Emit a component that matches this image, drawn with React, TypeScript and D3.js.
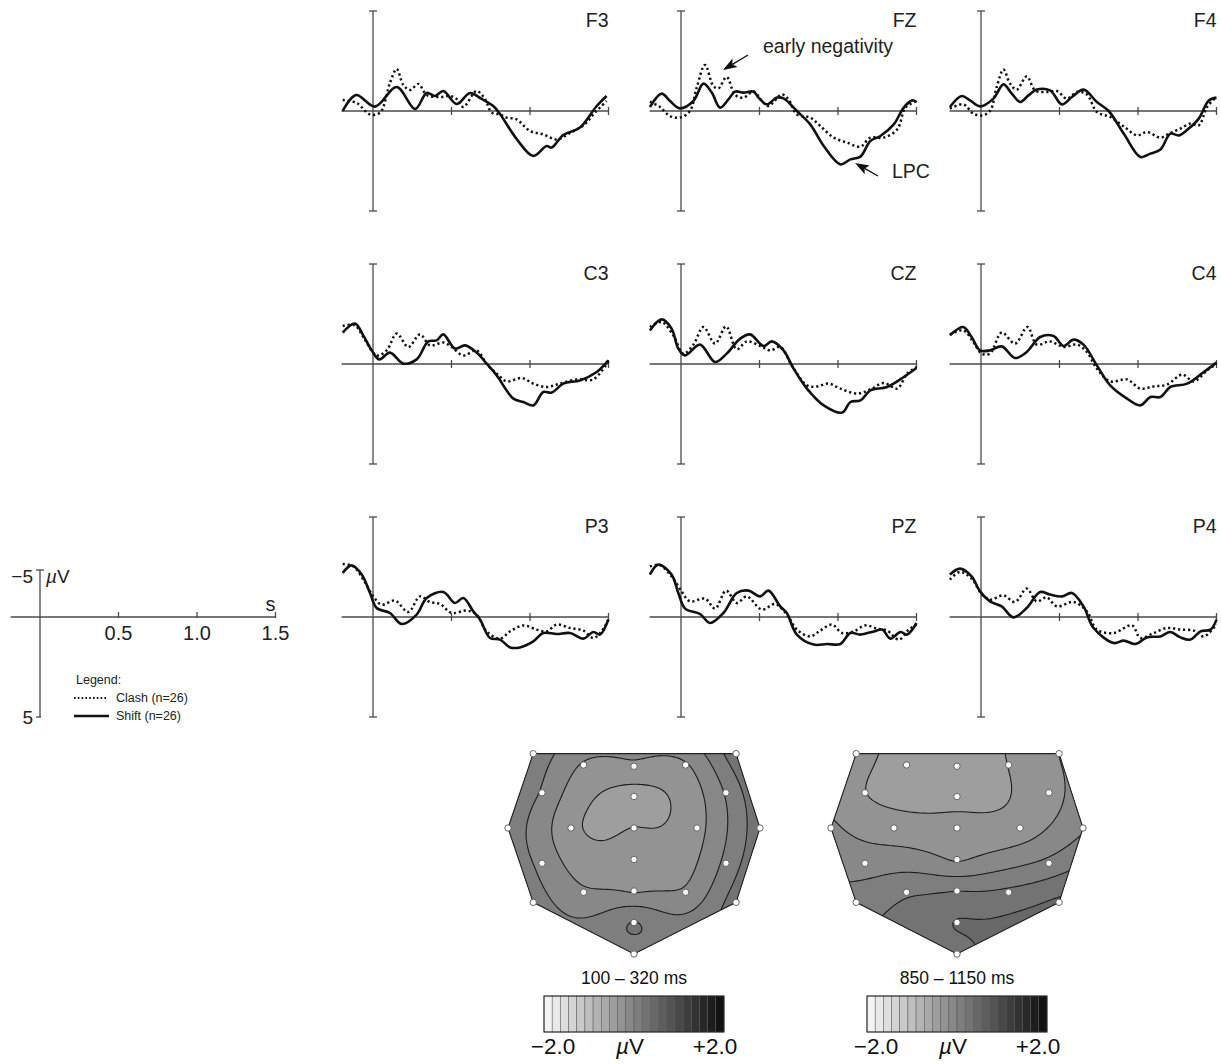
import React, { useMemo } from "react";
import * as d3 from "d3";

type Pt = [number, number];

// ---------- ERP data: [time (s), amplitude (µV)], negative plotted up ----------
const F3_SHIFT: Pt[] = [[-0.193,0],[-0.108,-0.8],[0.013,-0.22],[0.151,-1.2],[0.268,-0.1],[0.342,-0.9],[0.395,-0.75],[0.448,-1.0],[0.533,-0.35],[0.618,-0.9],[0.682,-0.65],[0.766,-0.25],[0.809,0.15],[0.915,1.4],[1.021,2.25],[1.106,1.75],[1.138,1.83],[1.212,1.2],[1.318,0.83],[1.425,-0.25],[1.488,-0.75]];
const F3_CLASH: Pt[] = [[-0.193,-0.55],[-0.104,-0.4],[-0.019,0.17],[0.045,0.08],[0.108,-1.4],[0.151,-2.1],[0.193,-1.3],[0.236,-1.05],[0.289,-1.35],[0.342,-0.8],[0.427,-0.7],[0.49,-0.75],[0.533,-0.6],[0.575,-0.2],[0.66,-1.0],[0.713,-0.6],[0.756,0.08],[0.809,0.17],[0.851,0.33],[0.915,0.42],[1.0,1.0],[1.085,1.17],[1.17,1.42],[1.255,1.1],[1.34,0.72],[1.414,0.08],[1.488,-0.5]];
const FZ_SHIFT: Pt[] = [[-0.198,-0.2],[-0.123,-0.87],[-0.07,-0.5],[-0.006,-0.13],[0.079,-0.5],[0.143,-1.37],[0.196,-0.92],[0.249,-0.17],[0.302,-0.58],[0.345,-0.97],[0.398,-0.92],[0.462,-0.97],[0.494,-0.67],[0.547,-0.33],[0.611,-0.67],[0.653,-0.63],[0.738,0],[0.823,0.67],[0.909,1.75],[1.015,2.67],[1.079,2.42],[1.143,2.28],[1.206,1.5],[1.27,1.25],[1.355,0.67],[1.419,-0.17],[1.472,-0.53],[1.5,-0.45]];
const FZ_CLASH: Pt[] = [[-0.198,-0.47],[-0.134,-0.2],[-0.07,0.25],[-0.006,0.33],[0.057,0],[0.1,-1.17],[0.153,-2.3],[0.206,-1.25],[0.238,-1.13],[0.291,-1.7],[0.345,-0.8],[0.398,-0.67],[0.462,-0.97],[0.515,-0.5],[0.557,-0.25],[0.643,-0.83],[0.685,-0.58],[0.738,0.17],[0.823,0.33],[0.887,0.75],[0.972,1.33],[1.057,1.58],[1.143,1.78],[1.206,1.33],[1.291,1.33],[1.377,0.92],[1.43,-0.17],[1.5,-0.5]];
const F4_SHIFT: Pt[] = [[-0.198,-0.2],[-0.123,-0.75],[-0.07,-0.53],[-0.006,-0.23],[0.079,-0.62],[0.143,-1.33],[0.196,-0.87],[0.249,-0.45],[0.302,-0.78],[0.355,-1.07],[0.44,-1.03],[0.515,-0.33],[0.579,-0.7],[0.653,-1.07],[0.738,-0.45],[0.813,0],[0.909,1.13],[1.015,2.3],[1.079,2.13],[1.143,1.93],[1.206,1.13],[1.26,1.22],[1.323,0.88],[1.387,0.38],[1.451,-0.53],[1.5,-0.67]];
const F4_CLASH: Pt[] = [[-0.198,-0.12],[-0.113,-0.33],[-0.049,0.13],[0.004,0.22],[0.057,0],[0.1,-1.2],[0.143,-2.07],[0.185,-1.37],[0.228,-1.07],[0.291,-1.73],[0.345,-1.03],[0.419,-0.95],[0.483,-1.0],[0.547,-0.62],[0.611,-0.95],[0.674,-0.83],[0.738,0.05],[0.823,0.3],[0.909,0.77],[0.994,1.22],[1.057,1.05],[1.143,1.33],[1.206,1.1],[1.27,0.88],[1.334,0.63],[1.387,0.72],[1.44,-0.2],[1.5,-0.7]];
const C3_SHIFT: Pt[] = [[-0.193,-1.57],[-0.115,-2.02],[-0.062,-1.43],[-0.008,-0.68],[0.04,-0.23],[0.108,-0.57],[0.193,-0.02],[0.278,-0.23],[0.352,-1.13],[0.406,-1.18],[0.448,-1.48],[0.522,-0.77],[0.586,-0.93],[0.66,-0.57],[0.724,-0.02],[0.788,0.57],[0.894,1.73],[0.958,1.9],[1.021,2.07],[1.085,1.4],[1.138,1.43],[1.212,0.98],[1.318,0.82],[1.425,0.4],[1.499,-0.18]];
const C3_CLASH: Pt[] = [[-0.193,-1.9],[-0.115,-1.93],[-0.062,-1.35],[0.023,-0.43],[0.087,-0.68],[0.151,-1.52],[0.225,-0.85],[0.299,-1.48],[0.363,-0.93],[0.448,-1.07],[0.501,-0.85],[0.575,-0.43],[0.66,-0.68],[0.724,0],[0.788,0.48],[0.851,0.87],[0.947,0.7],[1.021,0.98],[1.106,1.15],[1.19,0.98],[1.297,0.77],[1.403,0.77],[1.499,-0.13]];
const CZ_SHIFT: Pt[] = [[-0.198,-1.68],[-0.123,-2.23],[-0.06,-1.77],[-0.017,-0.77],[0.026,-0.43],[0.121,-0.97],[0.217,-0.1],[0.291,-0.52],[0.377,-1.27],[0.44,-1.48],[0.526,-0.9],[0.579,-1.13],[0.653,-0.68],[0.717,0.23],[0.802,1.23],[0.909,2.07],[1.026,2.43],[1.079,1.9],[1.143,1.82],[1.206,1.32],[1.313,1.15],[1.419,0.65],[1.5,0.2]];
const CZ_CLASH: Pt[] = [[-0.198,-1.85],[-0.123,-2.1],[-0.049,-1.43],[0.015,-0.52],[0.079,-0.97],[0.143,-1.85],[0.217,-1.02],[0.287,-1.88],[0.355,-0.73],[0.419,-1.13],[0.504,-0.9],[0.568,-0.68],[0.632,-0.85],[0.706,0.07],[0.802,1.07],[0.866,1.12],[0.94,0.98],[1.015,1.23],[1.121,1.48],[1.206,1.27],[1.291,0.95],[1.377,1.23],[1.44,0.48],[1.5,0.15]];
const C4_SHIFT: Pt[] = [[-0.198,-1.43],[-0.113,-1.85],[-0.06,-1.35],[-0.006,-0.68],[0.057,-0.68],[0.132,-0.88],[0.217,-0.3],[0.291,-0.6],[0.377,-1.35],[0.462,-1.4],[0.526,-0.9],[0.589,-1.22],[0.653,-0.97],[0.738,0.07],[0.823,1.07],[0.93,1.73],[1.015,2.07],[1.079,1.65],[1.143,1.65],[1.206,1.15],[1.313,0.98],[1.419,0.4],[1.5,-0.07]];
const C4_CLASH: Pt[] = [[-0.198,-1.48],[-0.113,-1.68],[-0.049,-1.1],[0.004,-0.52],[0.057,-0.52],[0.132,-1.57],[0.217,-1.02],[0.296,-1.85],[0.355,-0.97],[0.44,-1.13],[0.526,-0.85],[0.611,-0.97],[0.674,-0.6],[0.738,0.23],[0.823,0.87],[0.93,0.77],[1.015,1.23],[1.1,1.12],[1.185,1.03],[1.281,0.53],[1.355,0.87],[1.44,0.32],[1.5,0]];
const P3_SHIFT: Pt[] = [[-0.193,-2.2],[-0.136,-2.58],[-0.072,-2.12],[-0.019,-1.2],[0.023,-0.45],[0.108,-0.2],[0.183,0.35],[0.278,-0.12],[0.342,-0.95],[0.448,-1.25],[0.522,-0.7],[0.575,-0.95],[0.639,-0.28],[0.682,0.13],[0.745,1.05],[0.809,1.13],[0.873,1.52],[0.936,1.52],[1.021,1.22],[1.085,0.8],[1.17,0.85],[1.255,0.8],[1.34,1.08],[1.403,0.75],[1.446,0.88],[1.499,0.13]];
const P3_CLASH: Pt[] = [[-0.193,-2.65],[-0.125,-2.53],[-0.062,-1.87],[0.002,-1.03],[0.055,-0.62],[0.14,-0.82],[0.225,-0.25],[0.299,-1.03],[0.363,-0.75],[0.427,-0.65],[0.501,-0.2],[0.597,-0.32],[0.66,-0.12],[0.724,0.72],[0.809,1.08],[0.873,0.72],[0.958,0.42],[1.042,0.63],[1.106,0.72],[1.17,0.38],[1.255,0.55],[1.34,0.68],[1.403,1.05],[1.456,0.72],[1.499,0.13]];
const PZ_SHIFT: Pt[] = [[-0.198,-2.12],[-0.145,-2.62],[-0.06,-2.12],[-0.017,-1.2],[0.026,-0.42],[0.121,-0.15],[0.185,0.3],[0.27,-0.2],[0.355,-1.2],[0.43,-1.32],[0.504,-1.03],[0.557,-1.32],[0.632,-0.53],[0.674,-0.2],[0.738,0.88],[0.845,1.38],[0.93,1.35],[1.015,1.35],[1.079,0.8],[1.143,0.88],[1.228,0.72],[1.281,0.63],[1.334,1.08],[1.398,0.75],[1.44,0.88],[1.5,0.3]];
const PZ_CLASH: Pt[] = [[-0.198,-2.53],[-0.134,-2.58],[-0.06,-2.03],[0.004,-1.28],[0.057,-0.78],[0.153,-0.92],[0.217,-0.42],[0.287,-1.32],[0.355,-0.7],[0.419,-1.03],[0.515,-0.37],[0.6,-0.65],[0.674,-0.12],[0.738,0.63],[0.823,0.97],[0.887,0.68],[0.962,0.38],[1.026,0.8],[1.1,0.72],[1.174,0.42],[1.249,0.58],[1.313,0.68],[1.387,1.13],[1.451,0.63],[1.5,0.38]];
const P4_SHIFT: Pt[] = [[-0.198,-2.12],[-0.134,-2.42],[-0.06,-2.03],[-0.006,-1.28],[0.057,-0.78],[0.132,-0.53],[0.206,0.02],[0.291,-0.45],[0.377,-1.25],[0.44,-1.12],[0.515,-1.03],[0.579,-1.2],[0.653,-0.53],[0.717,0.55],[0.845,1.3],[0.909,1.18],[0.983,1.35],[1.057,1.02],[1.143,0.97],[1.206,0.75],[1.27,1.02],[1.334,1.13],[1.398,0.72],[1.462,0.63],[1.5,0.13]];
const P4_CLASH: Pt[] = [[-0.198,-1.87],[-0.134,-2.25],[-0.06,-1.92],[0.004,-1.15],[0.057,-0.87],[0.143,-1.08],[0.217,-0.75],[0.291,-1.42],[0.355,-0.78],[0.419,-0.98],[0.483,-0.53],[0.589,-0.75],[0.674,-0.28],[0.738,0.63],[0.845,0.8],[0.962,0.42],[1.015,1.05],[1.1,0.8],[1.185,0.55],[1.27,0.63],[1.355,0.68],[1.419,0.97],[1.5,0.38]];

const ELECTRODES = ["F3", "FZ", "F4", "C3", "CZ", "C4", "P3", "PZ", "P4"];
const SHIFT_SERIES = [F3_SHIFT, FZ_SHIFT, F4_SHIFT, C3_SHIFT, CZ_SHIFT, C4_SHIFT, P3_SHIFT, PZ_SHIFT, P4_SHIFT];
const CLASH_SERIES = [F3_CLASH, FZ_CLASH, F4_CLASH, C3_CLASH, CZ_CLASH, C4_CLASH, P3_CLASH, PZ_CLASH, P4_CLASH];

const X_TICKS = [0.5, 1.0, 1.5];
const X_TICK_LABELS = ["0.5", "1.0", "1.5"];
const T_MIN = -0.2;
const T_MAX = 1.5;
const UV_MAX = 5;

const LEGEND_ITEMS = ["Clash (n=26)", "Shift (n=26)"];

// ---------- topographic maps ----------
// electrode montage in normalized map units
const MONTAGE: Pt[] = [
  [-0.8, -0.59], [0.81, -0.59],
  [-0.4, -0.5], [0, -0.49], [0.41, -0.5],
  [-0.73, -0.28], [0, -0.25], [0.73, -0.28],
  [-1, 0], [-0.5, 0], [0, 0], [0.5, 0], [1, 0],
  [-0.73, 0.28], [0, 0.25], [0.73, 0.28],
  [-0.4, 0.51], [0, 0.5], [0.41, 0.51],
  [-0.8, 0.59], [0.81, 0.59],
  [0, 0.75], [0, 1],
];
const HULL = [0, 1, 12, 20, 22, 19, 8];
const MAP1_VALUES = [0.12, 0.3, -0.2, -0.22, -0.2, -0.02, -0.43, 0.02, 0.1, -0.32, -0.36, -0.24, 0.3, -0.05, -0.3, 0.05, -0.15, -0.2, -0.15, 0.08, 0.28, 0.19, 0.08];
const MAP2_VALUES = [-0.28, -0.18, -0.45, -0.47, -0.36, -0.36, -0.42, -0.25, -0.15, -0.28, -0.3, -0.28, -0.02, -0.08, -0.2, 0.05, 0.15, 0.18, 0.22, 0.08, 0.4, 0.37, 0.3];
const MAP_TITLES = ["100 \u2013 320 ms", "850 \u2013 1150 ms"];
const CB_MIN = -2;
const CB_MAX = 2;
const CB_CELLS = 22;
const CB_LABELS = ["\u22122.0", "+2.0"];

// ---------- layout ----------
const FONT = "'Liberation Sans', Arial, Helvetica, sans-serif";
const COL_ZERO_X = [373, 681, 981];
const ROW_ZERO_Y = [111, 364, 617];
const PX_PER_SEC = 157;
const HALF_H = 100;
const AXIS = "#4a4a4a";
const MAP_CENTERS: Pt[] = [[634, 828], [957, 828]];
const MAP_R = 126;

function cellColor(i: number) {
  const g = Math.round(244 - i * (226 / (CB_CELLS - 1)));
  return d3.rgb(g, g, g).formatHex();
}

function solve(A: number[][], b: number[]) {
  const n = b.length;
  const M = A.map((r, i) => [...r, b[i]]);
  for (let c = 0; c < n; c++) {
    let p = c;
    for (let r = c + 1; r < n; r++) if (Math.abs(M[r][c]) > Math.abs(M[p][c])) p = r;
    const tmp = M[c]; M[c] = M[p]; M[p] = tmp;
    for (let r = c + 1; r < n; r++) {
      const f = M[r][c] / M[c][c];
      if (f === 0) continue;
      for (let k = c; k <= n; k++) M[r][k] -= f * M[c][k];
    }
  }
  const x = new Array(n).fill(0);
  for (let r = n - 1; r >= 0; r--) {
    let s = M[r][n];
    for (let k = r + 1; k < n; k++) s -= M[r][k] * x[k];
    x[r] = s / M[r][r];
  }
  return x;
}

function thinPlate(pts: Pt[], vals: number[]) {
  const n = pts.length;
  const m = n + 3;
  const phi = (r2: number) => (r2 > 1e-12 ? 0.5 * r2 * Math.log(r2) : 0);
  const A: number[][] = Array.from({ length: m }, () => new Array(m).fill(0));
  const b = new Array(m).fill(0);
  for (let i = 0; i < n; i++) {
    for (let j = 0; j < n; j++) {
      const dx = pts[i][0] - pts[j][0], dy = pts[i][1] - pts[j][1];
      A[i][j] = phi(dx * dx + dy * dy);
    }
    A[i][n] = 1; A[i][n + 1] = pts[i][0]; A[i][n + 2] = pts[i][1];
    A[n][i] = 1; A[n + 1][i] = pts[i][0]; A[n + 2][i] = pts[i][1];
    b[i] = vals[i];
  }
  const w = solve(A, b);
  return (x: number, y: number) => {
    let s = w[n] + w[n + 1] * x + w[n + 2] * y;
    for (let i = 0; i < n; i++) {
      const dx = x - pts[i][0], dy = y - pts[i][1];
      s += w[i] * phi(dx * dx + dy * dy);
    }
    return s;
  };
}

function ErpPanel({ name, shift, clash, x0, y0 }: { name: string; shift: Pt[]; clash: Pt[]; x0: number; y0: number }) {
  const x = d3.scaleLinear().domain([0, 1]).range([x0, x0 + PX_PER_SEC]);
  const y = d3.scaleLinear().domain([-UV_MAX, UV_MAX]).range([y0 - HALF_H, y0 + HALF_H]);
  const line = d3.line<Pt>().x((d) => x(d[0])).y((d) => y(d[1])).curve(d3.curveCatmullRom.alpha(0.5));
  return (
    <g>
      <line x1={x(T_MIN)} x2={x(T_MAX)} y1={y(0)} y2={y(0)} stroke={AXIS} strokeWidth={1.3} />
      {X_TICKS.map((t) => (
        <line key={t} x1={x(t)} x2={x(t)} y1={y(0) - 4} y2={y(0) + 4} stroke={AXIS} strokeWidth={1.3} />
      ))}
      <line x1={x(0)} x2={x(0)} y1={y(-UV_MAX)} y2={y(UV_MAX)} stroke={AXIS} strokeWidth={1.3} />
      <line x1={x(0) - 4} x2={x(0) + 4} y1={y(-UV_MAX)} y2={y(-UV_MAX)} stroke={AXIS} strokeWidth={1.3} />
      <line x1={x(0) - 4} x2={x(0) + 4} y1={y(UV_MAX)} y2={y(UV_MAX)} stroke={AXIS} strokeWidth={1.3} />
      <path d={line(clash) || ""} fill="none" stroke="#111" strokeWidth={2.5} strokeDasharray="2.2 2.8" />
      <path d={line(shift) || ""} fill="none" stroke="#111" strokeWidth={2.6} strokeLinejoin="round" />
      <text x={x(T_MAX)} y={y(-UV_MAX) + 16} textAnchor="end" fontSize={19.5} fontFamily={FONT} fill="#222">
        {name}
      </text>
    </g>
  );
}

function ScalePanel() {
  const x0 = 40, y0 = 617;
  const x = d3.scaleLinear().domain([0, 1]).range([x0, x0 + PX_PER_SEC]);
  const top = 570, bottom = 717;
  return (
    <g fontFamily={FONT} fill="#222">
      <line x1={x(T_MIN) + 2} x2={x(T_MAX)} y1={y0} y2={y0} stroke={AXIS} strokeWidth={1.3} />
      {X_TICKS.map((t, i) => (
        <g key={t}>
          <line x1={x(t)} x2={x(t)} y1={y0 - 5} y2={y0 + 1} stroke={AXIS} strokeWidth={1.3} />
          <text x={x(t)} y={y0 + 23} textAnchor="middle" fontSize={20}>{X_TICK_LABELS[i]}</text>
        </g>
      ))}
      <text x={x(T_MAX) - 5} y={y0 - 6} textAnchor="middle" fontSize={20}>s</text>
      <line x1={x0} x2={x0} y1={top} y2={bottom} stroke={AXIS} strokeWidth={1.3} />
      <line x1={x0 - 4} x2={x0 + 4} y1={top} y2={top} stroke={AXIS} strokeWidth={1.3} />
      <line x1={x0 - 4} x2={x0 + 1} y1={bottom} y2={bottom} stroke={AXIS} strokeWidth={1.3} />
      <text x={x0 - 7} y={top + 13} textAnchor="end" fontSize={19}>{"\u22125"}</text>
      <text x={x0 + 6} y={top + 13} fontSize={19}>
        <tspan fontStyle="italic">{"\u00b5"}</tspan>V
      </text>
      <text x={x0 - 7} y={bottom + 7} textAnchor="end" fontSize={19}>5</text>
      <text x={76} y={684} fontSize={12.5}>Legend:</text>
      <line x1={74} x2={107} y1={698} y2={698} stroke="#111" strokeWidth={2} strokeDasharray="1.6 2.2" />
      <text x={116} y={702} fontSize={12.5}>{LEGEND_ITEMS[0]}</text>
      <line x1={74} x2={109} y1={716} y2={716} stroke="#111" strokeWidth={2.4} />
      <text x={116} y={720} fontSize={12.5}>{LEGEND_ITEMS[1]}</text>
    </g>
  );
}

function Arrow({ x1, y1, x2, y2 }: { x1: number; y1: number; x2: number; y2: number }) {
  const dx = x2 - x1, dy = y2 - y1;
  const len = Math.hypot(dx, dy);
  const ux = dx / len, uy = dy / len;
  const hl = 14, hw = 5;
  const bx = x2 - ux * hl, by = y2 - uy * hl;
  const pts = [
    [x2, y2],
    [bx - uy * hw, by + ux * hw],
    [bx + ux * 3, by + uy * 3],
    [bx + uy * hw, by - ux * hw],
  ];
  return (
    <g>
      <line x1={x1} y1={y1} x2={bx + ux * 3} y2={by + uy * 3} stroke="#111" strokeWidth={1.4} />
      <polygon points={pts.map((p) => p.join(",")).join(" ")} fill="#111" />
    </g>
  );
}

function Topomap({ idx, values, title }: { idx: number; values: number[]; title: string }) {
  const [cx, cy] = MAP_CENTERS[idx];
  const sx = d3.scaleLinear().domain([-1, 1]).range([cx - MAP_R, cx + MAP_R]);
  const sy = d3.scaleLinear().domain([-1, 1]).range([cy - MAP_R, cy + MAP_R]);
  const { fills, lines } = useMemo(() => {
    const f = thinPlate(MONTAGE, values);
    const step = 2;
    const gx0 = cx - 1.12 * MAP_R, gy0 = cy - 0.75 * MAP_R;
    const nx = Math.ceil((2.24 * MAP_R) / step) + 1;
    const ny = Math.ceil((1.9 * MAP_R) / step) + 1;
    const grid: number[] = new Array(nx * ny);
    for (let j = 0; j < ny; j++)
      for (let i = 0; i < nx; i++)
        grid[j * nx + i] = f((gx0 + i * step - cx) / MAP_R, (gy0 + j * step - cy) / MAP_R);
    const th = d3.range(CB_CELLS).map((k) => CB_MIN + (k * (CB_MAX - CB_MIN)) / CB_CELLS);
    const cs = d3.contours().size([nx, ny]).thresholds(th)(grid);
    const gp = d3.geoPath(d3.geoIdentity().scale(step).translate([gx0 - step / 2, gy0 - step / 2]) as any);
    const fills = cs.map((c, k) => ({ k, d: gp(c as any) || "" })).filter((c) => c.d);
    const lines = fills.filter((c) => c.k > 0);
    return { fills, lines };
  }, [idx, values]);
  const hullPts = HULL.map((i) => [sx(MONTAGE[i][0]), sy(MONTAGE[i][1])].join(",")).join(" ");
  const clipId = `topo-clip-${idx}`;
  const cbW = 180, cbH = 36, cbX = cx - cbW / 2, cbY = 996;
  const cw = cbW / CB_CELLS;
  return (
    <g fontFamily={FONT} fill="#111">
      <defs>
        <clipPath id={clipId}>
          <polygon points={hullPts} />
        </clipPath>
      </defs>
      <g clipPath={`url(#${clipId})`}>
        {fills.map((c) => (
          <path key={`f${c.k}`} d={c.d} fill={cellColor(c.k)} stroke="none" />
        ))}
        {lines.map((c) => (
          <path key={`l${c.k}`} d={c.d} fill="none" stroke="#1c1c1c" strokeWidth={1.1} />
        ))}
      </g>
      <polygon points={hullPts} fill="none" stroke="#222" strokeWidth={1.1} />
      {MONTAGE.map((p, i) => (
        <circle key={i} cx={sx(p[0])} cy={sy(p[1])} r={3.2} fill="#fff" stroke="#555" strokeWidth={0.9} />
      ))}
      <text x={cx} y={984} textAnchor="middle" fontSize={17.5}>{title}</text>
      {d3.range(CB_CELLS).map((i) => (
        <rect key={i} x={cbX + i * cw} y={cbY} width={cw} height={cbH} fill={cellColor(i)} stroke="#555" strokeWidth={0.5} />
      ))}
      <rect x={cbX} y={cbY} width={cbW} height={cbH} fill="none" stroke="#222" strokeWidth={1} />
      <text x={cx - 81} y={1054} textAnchor="middle" fontSize={22.5}>{CB_LABELS[0]}</text>
      <text x={cx - 4} y={1054} textAnchor="middle" fontSize={22.5}>
        <tspan fontStyle="italic">{"\u00b5"}</tspan>V
      </text>
      <text x={cx + 81} y={1054} textAnchor="middle" fontSize={22.5}>{CB_LABELS[1]}</text>
    </g>
  );
}

export default function App() {
  return (
    <svg width={1221} height={1064} viewBox="0 0 1221 1064" style={{ position: "absolute", left: 0, top: 0, background: "#fff" }}>
      <rect width={1221} height={1064} fill="#fff" />
      {ELECTRODES.map((name, i) => (
        <ErpPanel key={name} name={name} shift={SHIFT_SERIES[i]} clash={CLASH_SERIES[i]} x0={COL_ZERO_X[i % 3]} y0={ROW_ZERO_Y[Math.floor(i / 3)]} />
      ))}
      <ScalePanel />
      <g fontFamily={FONT} fill="#222">
        <text x={763} y={53} fontSize={19.5}>early negativity</text>
        <Arrow x1={748} y1={55} x2={723} y2={70} />
        <text x={892} y={178} fontSize={19.5}>LPC</text>
        <Arrow x1={878} y1={176} x2={855} y2={163} />
      </g>
      <Topomap idx={0} values={MAP1_VALUES} title={MAP_TITLES[0]} />
      <Topomap idx={1} values={MAP2_VALUES} title={MAP_TITLES[1]} />
    </svg>
  );
}
